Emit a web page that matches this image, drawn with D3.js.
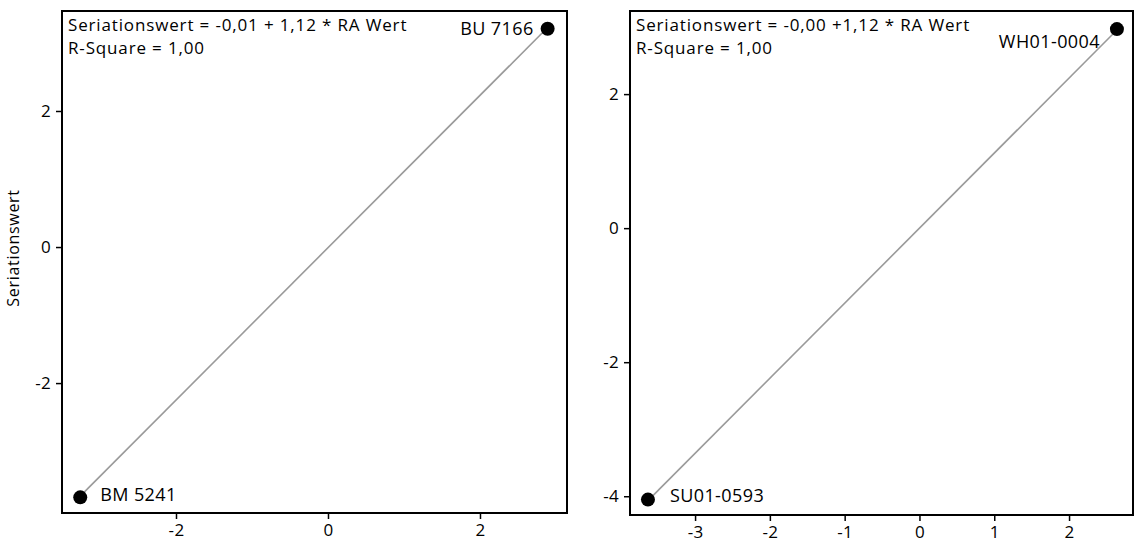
<!DOCTYPE html>
<html><head><meta charset="utf-8">
<script src="https://cdn.jsdelivr.net/npm/d3@7"></script>
<style>body{margin:0;background:#fff;} text{font-family:"Open Sans",sans-serif;}</style>
</head><body><svg id="c" width="1136" height="549"></svg>
<script>
// Panel 1 data
const p1Labels = ["BM 5241", "BU 7166"];
const p1X = [-3.26, 2.89];
const p1Y = [-3.68, 3.21];
const p1Intercept = -0.01, p1Slope = 1.12;
const p1Equation = "Seriationswert = -0,01 + 1,12 * RA Wert";
const p1RSq = "R-Square = 1,00";
const p1XTicks = [-2, 0, 2];
const p1YTicks = [-2, 0, 2];

// Panel 2 data
const p2Labels = ["SU01-0593", "WH01-0004"];
const p2X = [-3.63, 2.64];
const p2Y = [-4.05, 2.97];
const p2Intercept = -0.00, p2Slope = 1.12;
const p2Equation = "Seriationswert = -0,00 +1,12 * RA Wert";
const p2RSq = "R-Square = 1,00";
const p2XTicks = [-3, -2, -1, 0, 1, 2];
const p2YTicks = [-4, -2, 0, 2];

const yTitle = "Seriationswert";

const svg = d3.select("#c");

function panel(cfg) {
  const x = d3.scaleLinear().domain(cfg.xDom).range([cfg.left, cfg.right]);
  const y = d3.scaleLinear().domain(cfg.yDom).range([cfg.bottom, cfg.top]);
  const g = svg.append("g");
  const fmt = d => d < 0 ? "-" + Math.abs(d) : String(d);

  const xa = g.append("g").attr("transform", `translate(0,${cfg.bottom})`)
    .call(d3.axisBottom(x).tickValues(cfg.xTicks).tickSize(6).tickPadding(5).tickFormat(fmt));
  const ya = g.append("g").attr("transform", `translate(${cfg.left},0)`)
    .call(d3.axisLeft(y).tickValues(cfg.yTicks).tickSize(6).tickPadding(5).tickFormat(fmt));
  [xa, ya].forEach(a => {
    a.select(".domain").remove();
    a.selectAll(".tick line").attr("stroke", "#000").attr("stroke-width", 1.5);
    a.selectAll(".tick text").attr("fill", "#000").style("font-size", "17px").style("letter-spacing", "0.3px");
  });

  // regression line between extreme x values
  const xs = d3.extent(cfg.xs);
  g.append("line")
    .attr("x1", x(xs[0])).attr("y1", y(cfg.b0 + cfg.b1 * xs[0]))
    .attr("x2", x(xs[1])).attr("y2", y(cfg.b0 + cfg.b1 * xs[1]))
    .attr("stroke", "#9a9a9a").attr("stroke-width", 1.6);

  g.append("rect").attr("x", cfg.left).attr("y", cfg.top)
    .attr("width", cfg.right - cfg.left).attr("height", cfg.bottom - cfg.top)
    .attr("fill", "none").attr("stroke", "#000").attr("stroke-width", 2);

  cfg.xs.forEach((v, i) => {
    g.append("circle").attr("cx", x(v)).attr("cy", y(cfg.ys[i])).attr("r", 7).attr("fill", "#000");
  });
  // labels
  cfg.labelPos.forEach((lp, i) => {
    g.append("text").attr("x", x(cfg.xs[i]) + lp.dx).attr("y", y(cfg.ys[i]) + lp.dy)
      .attr("text-anchor", lp.anchor).attr("dominant-baseline", "middle")
      .style("font-size", "18px").style("letter-spacing", "0.4px").attr("fill", "#000").text(cfg.labels[i]);
  });

  const ann = g.append("text").style("font-size", "17px").style("letter-spacing", "0.85px");
  ann.append("tspan").attr("x", cfg.left + 6).attr("y", cfg.top + 20).text(cfg.eq);
  ann.append("tspan").attr("x", cfg.left + 6).attr("y", cfg.top + 43).text(cfg.rsq);
}

panel({left: 62, right: 567, top: 11, bottom: 513,
  xDom: [-3.5, 3.145], yDom: [-3.91, 3.47],
  xTicks: p1XTicks, yTicks: p1YTicks, xs: p1X, ys: p1Y, labels: p1Labels,
  b0: p1Intercept, b1: p1Slope, eq: p1Equation, rsq: p1RSq,
  labelPos: [{dx: 20, dy: -1, anchor: "start"}, {dx: -14, dy: 2, anchor: "end"}]});

panel({left: 630, right: 1133, top: 11, bottom: 515,
  xDom: [-3.87, 2.855], yDom: [-4.28, 3.24],
  xTicks: p2XTicks, yTicks: p2YTicks, xs: p2X, ys: p2Y, labels: p2Labels,
  b0: p2Intercept, b1: p2Slope, eq: p2Equation, rsq: p2RSq,
  labelPos: [{dx: 22, dy: -2, anchor: "start"}, {dx: -17, dy: 14, anchor: "end"}]});

svg.append("text").attr("transform", "translate(19,248) rotate(-90)")
  .attr("text-anchor", "middle").style("font-size", "16px").style("letter-spacing", "0.7px").text(yTitle);
</script></body></html>
